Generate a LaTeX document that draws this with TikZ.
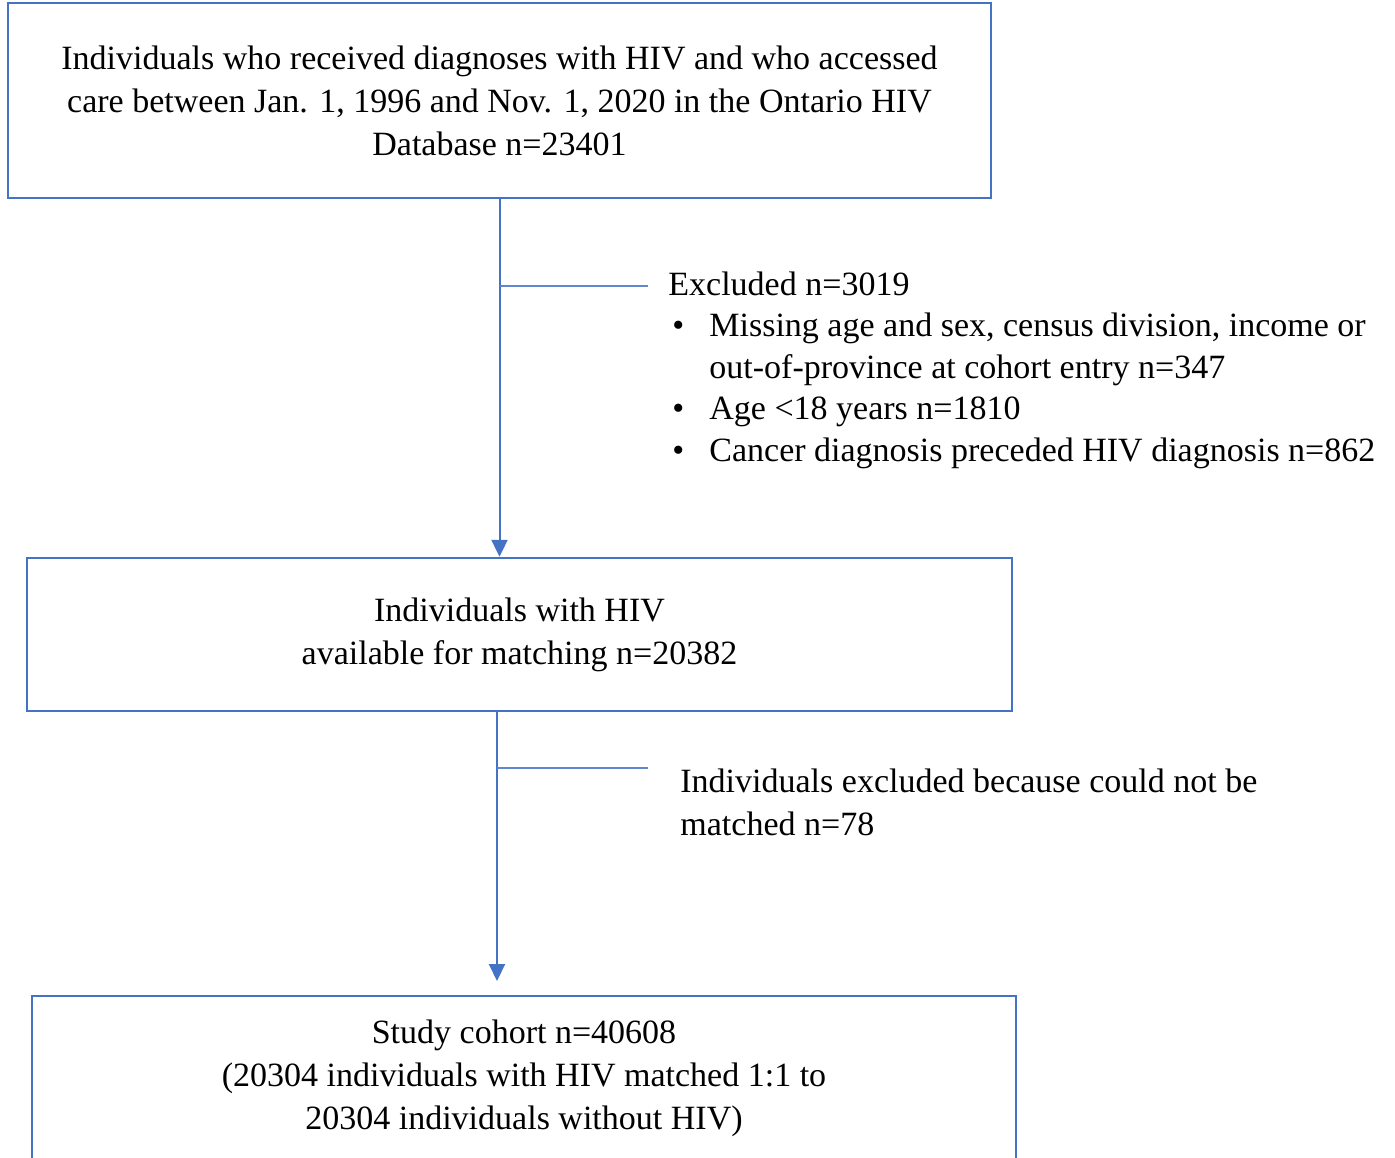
\documentclass[tikz,border=0pt]{standalone}
\usepackage{fontspec}
\setmainfont{Liberation Serif}
\usetikzlibrary{arrows.meta}
\definecolor{boxblue}{HTML}{4472C4}
\tikzset{
  box/.style={draw=boxblue, line width=1.2pt, align=center, inner sep=0pt},
  flow/.style={draw=boxblue, line width=1pt, -{Triangle[length=8.5pt,width=8pt]}},
  branch/.style={draw=boxblue!85, line width=0.7pt},
  note/.style={align=left, inner sep=0pt, anchor=west}
}
\begin{document}
\begin{tikzpicture}[x=0.5pt, y=-0.5pt, font=\fontsize{17}{21.5}\selectfont]
\useasboundingbox (0,0) rectangle (1395,1157);
\node[box, minimum width=491.5pt, minimum height=97.5pt] (all) at (499.5,100.5)
  {Individuals who received diagnoses with HIV and who accessed\\
   care between Jan. 1, 1996 and Nov. 1, 2020 in the Ontario HIV\\
   Database n=23401};
\node[box, minimum width=492.5pt, minimum height=76.5pt] (avail) at (519.5,634.5)
  {Individuals with HIV\\available for matching n=20382};
\node[box, minimum width=492pt, minimum height=82pt] (cohort) at (524,1078)
  {Study cohort n=40608\\(20304 individuals with HIV matched 1:1 to\\20304 individuals without HIV)};
\node[note] (excl) at (668,370) {\fontsize{17}{20.75}\selectfont\renewcommand\arraystretch{1}%
  \begin{tabular}{@{}l@{}l@{}}
  \multicolumn{2}{@{}l@{}}{Excluded n=3019}\\
  \makebox[20.5pt][l]{\hspace{2pt}\textbullet} & Missing age and sex, census division, income or\\
   & out-of-province at cohort entry n=347\\
  \makebox[20.5pt][l]{\hspace{2pt}\textbullet} & Age <18 years n=1810\\
  \makebox[20.5pt][l]{\hspace{2pt}\textbullet} & Cancer diagnosis preceded HIV diagnosis n=862
  \end{tabular}};
\node[note] (nomatch) at (680,802.5)
  {Individuals excluded because could not be\\matched n=78};
\coordinate (br1) at (648,286);
\coordinate (br2) at (648,768);
\coordinate (tip2) at (497,981);
\path[flow] (all.south) -- (all.south |- avail.north);
\path[flow] (tip2 |- avail.south) -- (tip2);
\path[branch] (all.south |- br1) -- (br1);
\path[branch] (tip2 |- br2) -- (br2);
\end{tikzpicture}
\end{document}
